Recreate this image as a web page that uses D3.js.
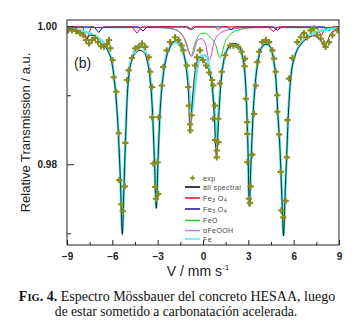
<!DOCTYPE html>
<html>
<head>
<meta charset="utf-8">
<script src="https://cdn.jsdelivr.net/npm/d3@7"></script>
<style>
  body { margin: 0; background: #fff; }
  svg { display: block; }
</style>
</head>
<body>
<div id="chart"></div>
<script>
// valores: [velocidad mm/s, transmisión relativa]
const expPoints = [
  [-8.93,0.9994],[-8.67,0.9994],[-8.40,0.9993],[-8.14,0.9990],[-7.94,0.9987],[-7.74,0.9980],
  [-7.54,0.9975],[-7.35,0.9980],[-7.15,0.9983],[-6.95,0.9977],[-6.75,0.9971],[-6.55,0.9970],
  [-6.35,0.9974],[-6.22,0.9980],[-6.13,0.9968],
  [-5.98,0.9951],[-5.91,0.9926],[-5.74,0.9905],[-5.58,0.9845],[-5.54,0.9777],[-5.41,0.9742],
  [-5.31,0.9732],[-5.18,0.9768],[-5.14,0.9831],
  [-5.03,0.9922],[-4.92,0.9936],[-4.70,0.9954],[-4.48,0.9968],[-4.26,0.9970],[-4.04,0.9975],
  [-3.82,0.9970],[-3.59,0.9955],[-3.49,0.9934],[-3.37,0.9912],[-3.37,0.9868],[-3.28,0.9801],
  [-3.16,0.9767],[-3.11,0.9750],[-2.96,0.9757],[-3.01,0.9803],
  [-2.94,0.9868],[-2.73,0.9914],[-2.63,0.9941],[-2.40,0.9965],[-2.18,0.9977],[-1.85,0.9984],
  [-1.63,0.9980],[-1.41,0.9972],[-1.30,0.9965],[-1.08,0.9943],[-0.97,0.9912],[-0.93,0.9885],
  [-0.76,0.9871],[-0.86,0.9858],[-0.83,0.9849],
  [-0.53,0.9943],[-0.40,0.9955],[-0.20,0.9965],[0.00,0.9951],[0.20,0.9943],[0.40,0.9933],
  [0.60,0.9922],[0.68,0.9914],[0.79,0.9885],[0.68,0.9866],[1.01,0.9866],[0.79,0.9835],
  [1.01,0.9832],[0.91,0.9820],[0.91,0.9810],
  [1.12,0.9917],[1.24,0.9934],[1.46,0.9958],[1.79,0.9972],[2.01,0.9972],[2.34,0.9970],
  [2.56,0.9963],[2.78,0.9953],
  [2.75,0.9942],[2.83,0.9895],[2.93,0.9861],[2.93,0.9844],[2.93,0.9803],[3.04,0.9750],
  [3.11,0.9744],[3.15,0.9768],[3.26,0.9814],
  [3.38,0.9873],[3.49,0.9914],[3.59,0.9948],[3.71,0.9963],[3.92,0.9977],[4.15,0.9980],
  [4.37,0.9977],[4.59,0.9965],[4.70,0.9953],[4.81,0.9934],[4.92,0.9900],[4.92,0.9876],
  [5.03,0.9843],
  [5.14,0.9789],[5.18,0.9733],[5.32,0.9723],[5.47,0.9747],[5.54,0.9810],
  [5.59,0.9864],[5.69,0.9924],[5.91,0.9954],[6.24,0.9977],[6.47,0.9984],[6.68,0.9990],
  [6.88,0.9984],[7.13,0.9994],[7.35,0.9997],[7.56,0.9987],[7.79,0.9982],[8.01,0.9975],
  [8.12,0.9970],[8.34,0.9977],[8.56,0.9987],[8.89,0.9994]
];

const allSpectral = [
  [-9.00,0.9997],[-8.47,0.9995],[-8.14,0.9991],[-7.87,0.9986],[-7.68,0.9981],[-7.48,0.9987],
  [-7.21,0.9986],[-6.95,0.9980],[-6.68,0.9974],[-6.49,0.9972],[-6.29,0.9964],[-6.02,0.9946],
  [-5.82,0.9912],[-5.62,0.9852],[-5.46,0.9774],[-5.34,0.9698],[-5.23,0.9768],[-5.13,0.9833],
  [-5.03,0.9891],[-4.90,0.9930],[-4.70,0.9951],[-4.43,0.9962],[-4.17,0.9965],[-3.90,0.9962],
  [-3.71,0.9951],[-3.51,0.9925],[-3.34,0.9875],[-3.21,0.9803],[-3.09,0.9736],[-2.98,0.9803],
  [-2.85,0.9872],[-2.68,0.9919],[-2.45,0.9952],[-2.18,0.9970],[-1.92,0.9978],[-1.65,0.9980],
  [-1.46,0.9974],[-1.26,0.9959],[-1.09,0.9936],[-0.96,0.9900],[-0.86,0.9845],[-0.73,0.9885],
  [-0.60,0.9922],[-0.43,0.9946],[-0.26,0.9955],[-0.10,0.9954],[0.07,0.9949],[0.26,0.9942],
  [0.46,0.9930],[0.63,0.9907],[0.76,0.9864],[0.89,0.9810],[1.03,0.9864],[1.16,0.9910],
  [1.32,0.9943],[1.59,0.9965],[1.85,0.9974],[2.12,0.9975],[2.38,0.9971],[2.61,0.9957],
  [2.78,0.9929],[2.89,0.9884],[2.98,0.9819],[3.06,0.9739],[3.18,0.9804],[3.31,0.9870],
  [3.47,0.9920],[3.67,0.9952],[3.90,0.9970],[4.17,0.9974],[4.43,0.9971],[4.63,0.9957],
  [4.83,0.9922],[4.96,0.9871],[5.10,0.9819],[5.23,0.9746],[5.33,0.9696],[5.43,0.9754],
  [5.55,0.9819],[5.66,0.9877],[5.82,0.9928],[6.09,0.9957],[6.49,0.9974],[6.95,0.9983],
  [7.35,0.9986],[7.68,0.9983],[7.88,0.9977],[8.01,0.9970],[8.21,0.9977],[8.47,0.9990],
  [8.74,0.9994],[9.00,0.9997]
];

const fitFe = [
  [-9.00,0.9997],[-8.01,0.9993],[-7.15,0.9986],[-6.62,0.9977],[-6.29,0.9965],[-6.02,0.9948],
  [-5.82,0.9914],[-5.62,0.9856],[-5.46,0.9777],[-5.34,0.9700],[-5.23,0.9769],[-5.13,0.9835],
  [-5.03,0.9893],[-4.90,0.9933],[-4.70,0.9955],[-4.43,0.9968],[-4.17,0.9972],[-3.90,0.9968],
  [-3.71,0.9955],[-3.51,0.9929],[-3.34,0.9878],[-3.21,0.9806],[-3.09,0.9738],[-2.98,0.9806],
  [-2.85,0.9875],[-2.68,0.9922],[-2.45,0.9954],[-2.18,0.9970],[-1.85,0.9977],[-1.52,0.9972],
  [-1.26,0.9958],[-1.06,0.9936],[-0.89,0.9900],[-0.75,0.9874],[-0.60,0.9900],[-0.40,0.9936],
  [-0.13,0.9957],[0.13,0.9958],[0.40,0.9943],[0.60,0.9914],[0.76,0.9878],[0.89,0.9827],
  [1.03,0.9875],[1.19,0.9922],[1.39,0.9951],[1.72,0.9970],[2.05,0.9974],[2.38,0.9970],
  [2.61,0.9955],[2.78,0.9929],[2.89,0.9885],[2.98,0.9820],[3.06,0.9740],[3.18,0.9806],
  [3.31,0.9871],[3.47,0.9922],[3.67,0.9954],[3.90,0.9970],[4.17,0.9974],[4.43,0.9970],
  [4.63,0.9955],[4.83,0.9922],[4.96,0.9871],[5.10,0.9820],[5.23,0.9748],[5.33,0.9697],
  [5.43,0.9755],[5.55,0.9820],[5.66,0.9878],[5.82,0.9929],[6.09,0.9958],[6.49,0.9975],
  [7.08,0.9987],[7.74,0.9993],[9.00,0.9997]
];

const fitFe3O4a = [
  [-9,0.9999],[-7.95,0.9998],[-7.68,0.9981],[-7.41,0.9998],[-4.7,0.9999],[-4.37,0.9990],
  [-4.04,0.9999],[-1.1,0.9999],[-0.88,0.9995],[-0.66,0.9999],[0.8,0.9999],[1.02,0.9995],
  [1.24,0.9999],[4.35,0.9999],[4.65,0.9992],[4.95,0.9999],[7.55,0.9998],[7.83,0.9986],
  [8.1,0.9998],[9,0.9999]
];

const fitFe3O4b = [
  [-9,0.9999],[-7.2,0.9999],[-6.9,0.9991],[-6.6,0.9999],[-4.25,0.9999],[-3.97,0.9993],
  [-3.7,0.9999],[-1.0,0.9999],[-0.75,0.9995],[-0.5,0.9999],[1.6,0.9999],[1.85,0.9995],
  [2.1,0.9999],[4.65,0.9999],[4.92,0.9994],[5.2,0.9999],[8.05,0.9999],[8.34,0.9993],
  [8.6,0.9999],[9,0.9999]
];

const fitFeO = [
  [-9,0.9998],[-3,0.9998],[-2,0.9996],[-1.5,0.9990],[-1.1,0.9976],[-0.81,0.9957],
  [-0.5,0.9977],[-0.15,0.9989],[0.15,0.9990],[0.5,0.9984],[0.85,0.9972],[1.12,0.9954],
  [1.45,0.9976],[1.9,0.9990],[2.6,0.9996],[3.5,0.9998],[9,0.9998]
];

const fitFeOOH = [
  [-9,0.9998],[-2.5,0.9998],[-1.8,0.9995],[-1.3,0.9985],[-0.75,0.9956],[-0.35,0.9980],
  [-0.1,0.9982],[0.15,0.9975],[0.42,0.9951],[0.75,0.9978],[1.2,0.9991],[2,0.9996],
  [3,0.9998],[9,0.9998]
];

const xMajor = [-9, -6, -3, 0, 3, 6, 9];
const xMinor = [-7.5, -4.5, -1.5, 1.5, 4.5, 7.5];
const yMajor = [0.98, 1.00];
const yMinor = [0.97, 0.99];

const width = 356, height = 330;
const plot = { left: 67, right: 339, top: 20, bottom: 245 };

const svg = d3.select("#chart").append("svg")
  .attr("width", width).attr("height", height)
  .style("font-family", "'Liberation Sans', Arial, sans-serif");

svg.append("rect").attr("width", width).attr("height", height).attr("fill", "#fff");

const x = d3.scaleLinear().domain([-9, 9]).range([plot.left, plot.right]);
const y = d3.scaleLinear().domain([0.9683, 1.0009]).range([plot.bottom, plot.top]);

svg.append("defs").append("clipPath").attr("id", "clip")
  .append("rect")
  .attr("x", plot.left).attr("y", plot.top)
  .attr("width", plot.right - plot.left).attr("height", plot.bottom - plot.top);

const line = d3.line().x(d => x(d[0])).y(d => y(d[1]));
const smooth = d3.line().x(d => x(d[0])).y(d => y(d[1])).curve(d3.curveMonotoneX);

const series = [
  { data: fitFeO, color: "#22cc22", w: 1, gen: smooth },
  { data: fitFeOOH, color: "#e040e0", w: 1, gen: smooth },
  { data: fitFe3O4b, color: "#1010a0", w: 1, gen: line },
  { data: fitFe3O4a, color: "#e01010", w: 1, gen: line },
  { data: fitFe, color: "#5ce8e8", w: 2.6, gen: smooth },
  { data: allSpectral, color: "#000", w: 0.8, gen: smooth }
];

const g = svg.append("g").attr("clip-path", "url(#clip)");

series.forEach(s => {
  g.append("path")
    .attr("d", s.gen(s.data))
    .attr("fill", "none")
    .attr("stroke", s.color)
    .attr("stroke-width", s.w);
});

g.selectAll(".pt")
  .data(expPoints)
  .enter().append("path")
  .attr("class", "pt")
  .attr("transform", d => `translate(${x(d[0])},${y(d[1])})`)
  .attr("d", d3.symbol().type(d3.symbolCross).size(22))
  .attr("fill", "#878c22");

// ejes
svg.append("g").attr("transform", `translate(0,${plot.bottom})`)
  .call(d3.axisBottom(x).tickValues(xMajor).tickSizeInner(-5).tickSizeOuter(0).tickPadding(8)
    .tickFormat(d3.format("d")));
svg.append("g").attr("transform", `translate(0,${plot.bottom})`)
  .call(d3.axisBottom(x).tickValues(xMinor).tickSizeInner(-3).tickSizeOuter(0).tickFormat(""));

svg.append("g").attr("transform", `translate(${plot.left},0)`)
  .call(d3.axisLeft(y).tickValues(yMajor).tickSizeInner(-7).tickSizeOuter(0).tickPadding(10)
    .tickFormat(d3.format(".2f")));
svg.append("g").attr("transform", `translate(${plot.left},0)`)
  .call(d3.axisLeft(y).tickValues(yMinor).tickSizeInner(-4).tickSizeOuter(0).tickFormat(""));

svg.selectAll(".domain").remove();
svg.selectAll(".tick line").attr("stroke", "#222");
svg.selectAll(".tick text")
  .attr("font-size", 10).attr("font-weight", "bold")
  .attr("font-family", "'Liberation Sans', Arial, sans-serif").attr("fill", "#222");

svg.append("rect")
  .attr("x", plot.left).attr("y", plot.top)
  .attr("width", plot.right - plot.left).attr("height", plot.bottom - plot.top)
  .attr("fill", "none").attr("stroke", "#222").attr("stroke-width", 1);

// títulos de ejes
svg.append("text")
  .attr("transform", `translate(30,${(plot.top + plot.bottom) / 2}) rotate(-90)`)
  .attr("text-anchor", "middle").attr("font-size", 13).attr("fill", "#222")
  .text("Relative Transmission / a.u.");

const xt = svg.append("text")
  .attr("x", 198).attr("y", 276).attr("text-anchor", "middle")
  .attr("font-size", 14).attr("fill", "#222");
xt.append("tspan").text("V / mm s");
xt.append("tspan").attr("dy", -6).attr("font-size", 8).text("-1");

svg.append("text").attr("x", 74).attr("y", 68).attr("font-size", 14).attr("fill", "#222").text("(b)");

// leyenda
const legendItems = [
  { label: ["exp"], color: "#878c22", y: 178, marker: true },
  { label: ["all spectral"], color: "#000", y: 187 },
  { label: ["Fe", "3", " O", "4"], color: "#e01010", y: 198 },
  { label: ["Fe", "3", " O", "4"], color: "#1010a0", y: 209 },
  { label: ["FeO"], color: "#22cc22", y: 220.5 },
  { label: ["\u03b1FeOOH"], color: "#e070e0", y: 230.5 },
  { label: ["Fe"], color: "#5ce8e8", y: 239 }
];

const legend = svg.append("g");
legendItems.forEach(it => {
  if (it.marker) {
    legend.append("path")
      .attr("transform", `translate(192.5,${it.y})`)
      .attr("d", d3.symbol().type(d3.symbolCross).size(14))
      .attr("fill", it.color);
  } else {
    legend.append("line")
      .attr("x1", 185).attr("x2", 200).attr("y1", it.y).attr("y2", it.y)
      .attr("stroke", it.color).attr("stroke-width", 1.5);
  }
  const t = legend.append("text").attr("x", 203).attr("y", it.y + 2.5)
    .attr("font-size", 7).attr("fill", "#444").attr("letter-spacing", 0.4);
  it.label.forEach((s, i) => {
    if (it.label.length > 1 && i % 2 === 1) {
      t.append("tspan").attr("font-size", 5.5).attr("dy", 1.5).text(s);
    } else {
      t.append("tspan").attr("dy", i > 0 ? -1.5 : 0).text(s);
    }
  });
});

// pie de figura
const cap = svg.append("g").attr("font-family", "'Liberation Serif', 'Times New Roman', serif")
  .attr("fill", "#111");
const c1 = cap.append("text").attr("x", 177).attr("y", 301).attr("text-anchor", "middle")
  .attr("font-size", 14);
c1.append("tspan").attr("font-weight", "bold").text("F");
c1.append("tspan").attr("font-weight", "bold").attr("font-size", 10.5).text("IG");
c1.append("tspan").attr("font-weight", "bold").text(". 4.");
c1.append("tspan").text(" Espectro Mössbauer del concreto HESAA, luego");
cap.append("text").attr("x", 176).attr("y", 316).attr("text-anchor", "middle")
  .attr("font-size", 13.6).text("de estar sometido a carbonatación acelerada.");
</script>
</body>
</html>
